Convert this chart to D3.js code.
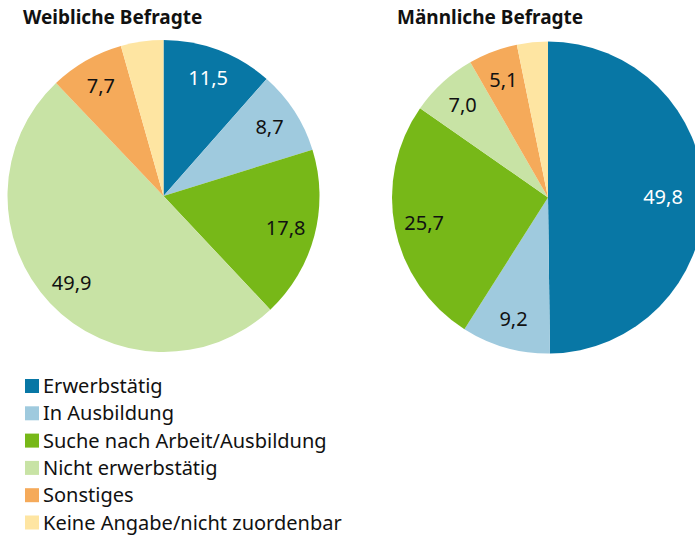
<!DOCTYPE html>
<html>
<head>
<meta charset="utf-8">
<script src="https://cdn.jsdelivr.net/npm/d3@7"></script>
<style>
  body { margin: 0; background: #fff; }
  svg { display: block; font-family: "Noto Sans", sans-serif; }
  .title { font-weight: bold; font-size: 19px; fill: #111; }
  .label { font-size: 20px; }
  .legend-text { font-size: 20px; fill: #111; }
</style>
</head>
<body>
<div id="chart"></div>
<script>
var categories = ["Erwerbstätig", "In Ausbildung", "Suche nach Arbeit/Ausbildung", "Nicht erwerbstätig", "Sonstiges", "Keine Angabe/nicht zuordenbar"];
var colors = ["#0877a5", "#9fcade", "#77b818", "#c8e3a5", "#f5aa5a", "#fee5a2"];
var weiblich = [11.5, 8.7, 17.8, 49.9, 7.7, 4.4];
var maennlich = [49.8, 9.2, 25.7, 7.0, 5.1, 3.2];
var titles = ["Weibliche Befragte", "Männliche Befragte"];
// which values get a printed label (the small "Keine Angabe" slice has none)
var showLabel = [true, true, true, true, true, false];

var width = 695, height = 535;
var radius = 156;

var svg = d3.select("#chart").append("svg")
    .attr("width", width)
    .attr("height", height);

var color = d3.scaleOrdinal().domain(categories).range(colors);

var pie = d3.pie().sort(null).value(function(d) { return d.value; });
var arc = d3.arc().innerRadius(0).outerRadius(radius);
var labelArc = d3.arc().innerRadius(radius * 0.81).outerRadius(radius * 0.81);

function drawPie(values, cx, cy, title, titleX) {
  var data = values.map(function(v, i) { return { name: categories[i], value: v, idx: i }; });

  svg.append("text")
    .attr("class", "title")
    .attr("x", titleX)
    .attr("y", 24)
    .text(title);

  var g = svg.append("g").attr("transform", "translate(" + cx + "," + cy + ")");

  var slices = g.selectAll(".slice")
    .data(pie(data))
    .enter()
    .append("g")
    .attr("class", "slice");

  slices.append("path")
    .attr("d", arc)
    .attr("fill", function(d) { return color(d.data.name); });

  slices.filter(function(d) { return showLabel[d.data.idx]; })
    .append("text")
    .attr("class", "label")
    .attr("transform", function(d) {
      var c = labelArc.centroid(d);
      // keep labels away from the cut-off right edge
      var maxX = width - 32 - cx;
      if (c[0] > maxX) c[0] = maxX;
      return "translate(" + c + ")";
    })
    .attr("text-anchor", "middle")
    .attr("dy", "0.36em")
    .attr("fill", function(d) { return d.data.idx === 0 ? "#fff" : "#111"; })
    .text(function(d) { return d3.format(".1f")(d.data.value).replace(".", ","); });
}

drawPie(weiblich, 163.5, 196, titles[0], 23);
drawPie(maennlich, 548, 197.5, titles[1], 397);

var legend = svg.selectAll(".legend")
  .data(categories)
  .enter()
  .append("g")
  .attr("class", "legend")
  .attr("transform", function(d, i) { return "translate(25," + (393 + i * 27.3) + ")"; });

legend.append("rect")
  .attr("x", 0)
  .attr("y", -14)
  .attr("width", 14)
  .attr("height", 14)
  .attr("fill", color);

legend.append("text")
  .attr("class", "legend-text")
  .attr("x", 18)
  .attr("y", 0)
  .text(function(d) { return d; });
</script>
</body>
</html>
